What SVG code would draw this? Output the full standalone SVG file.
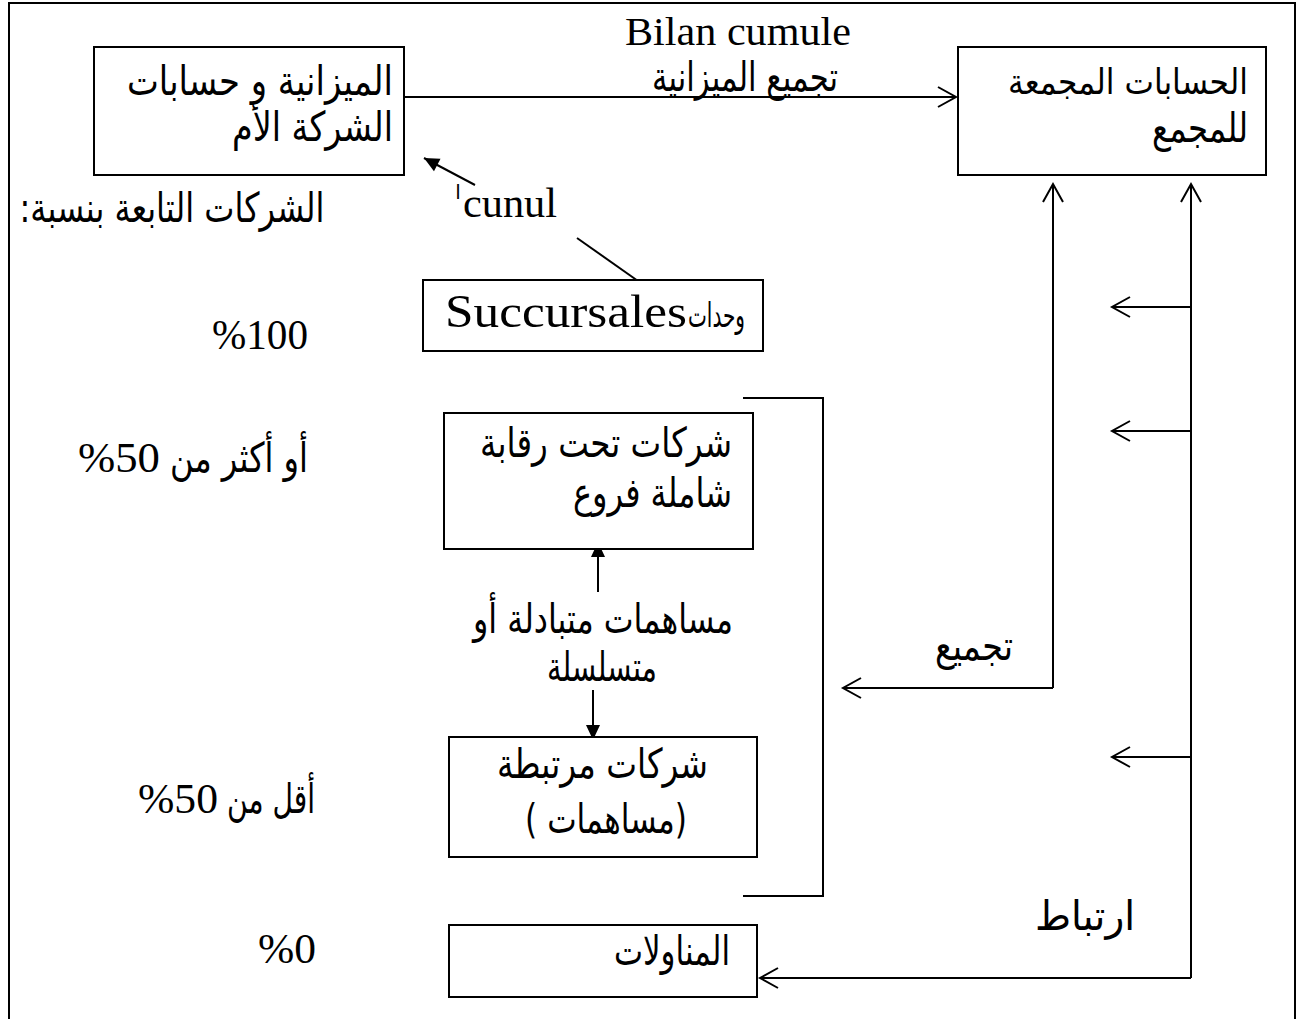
<svg xmlns="http://www.w3.org/2000/svg" width="1299" height="1019" viewBox="0 0 1299 1019">
<style>
.box{fill:#fff;stroke:#000;stroke-width:2}
.ln{fill:none;stroke:#000;stroke-width:2}
.ar{font-family:"DejaVu Sans",sans-serif;font-size:41px;fill:#000}
.lat{font-family:"Liberation Serif","DejaVu Sans",serif;font-size:40px;fill:#000}
</style>
<defs>
<marker id="open" viewBox="-22 -14 26 28" markerWidth="26" markerHeight="28" refX="0" refY="0" orient="auto" markerUnits="userSpaceOnUse">
<path d="M-18,-10 L0,0 L-18,10" fill="none" stroke="#000" stroke-width="2"/>
</marker>
<marker id="fill" viewBox="-18 -10 20 20" markerWidth="20" markerHeight="20" refX="0" refY="0" orient="auto" markerUnits="userSpaceOnUse">
<path d="M-15,-7 L0,0 L-15,7 Z" fill="#000"/>
</marker>
</defs>
<rect width="1299" height="1019" fill="#fff"/>
<path class="ln" d="M9,1019 V3 H1295 V1019"/>

<g id="connectors">
<path class="ln" d="M404,97 H956" marker-end="url(#open)"/>
<path class="ln" d="M475,185 L424,158" marker-end="url(#fill)"/>
<path class="ln" d="M577,238 L638,281"/>
<path class="ln" d="M598,592 V542" marker-end="url(#fill)"/>
<path class="ln" d="M593,690 V740" marker-end="url(#fill)"/>
<path class="ln" d="M743,398 H823 V896 H743"/>
<path class="ln" d="M1053,688 V184" marker-end="url(#open)"/>
<path class="ln" d="M1053,688 H843" marker-end="url(#open)"/>
<path class="ln" d="M1191,978 V184" marker-end="url(#open)"/>
<path class="ln" d="M1191,307 H1112" marker-end="url(#open)"/>
<path class="ln" d="M1191,431 H1112" marker-end="url(#open)"/>
<path class="ln" d="M1191,757 H1112" marker-end="url(#open)"/>
<path class="ln" d="M1191,978 H760" marker-end="url(#open)"/>
</g>

<g id="labels">
<text class="lat" x="738" y="45" text-anchor="middle" textLength="226" lengthAdjust="spacingAndGlyphs">Bilan cumule</text>
<text class="ar" x="838" y="91" text-anchor="end" textLength="186" lengthAdjust="spacingAndGlyphs">تجميع الميزانية</text>
<text class="ar" x="458" y="199" text-anchor="middle" style="font-size:20px">ا</text>
<text class="lat" x="463" y="217" textLength="94" lengthAdjust="spacingAndGlyphs" style="font-size:42px">cunul</text>
<text class="ar" x="1013" y="660" text-anchor="end" textLength="78" lengthAdjust="spacingAndGlyphs">تجميع</text>
<text class="ar" x="1135" y="930" text-anchor="end" textLength="100" lengthAdjust="spacingAndGlyphs">ارتباط</text>
<text class="ar" x="733" y="633" text-anchor="end" textLength="260" lengthAdjust="spacingAndGlyphs">مساهمات متبادلة أو</text>
<text class="ar" x="602" y="681" text-anchor="middle" textLength="110" lengthAdjust="spacingAndGlyphs">متسلسلة</text>
</g>

<g id="left-labels">
<text class="ar" x="172" y="222" text-anchor="middle" direction="rtl" textLength="305" lengthAdjust="spacingAndGlyphs">الشركات التابعة بنسبة:</text>
<text class="lat" x="260" y="349" text-anchor="middle" style="font-size:42px" textLength="96" lengthAdjust="spacingAndGlyphs">%100</text>
<g id="pct-50-plus">
<text class="lat" x="78" y="472" style="font-size:42px" textLength="82" lengthAdjust="spacingAndGlyphs">%50</text>
<text class="ar" x="308" y="472" text-anchor="end" textLength="138" lengthAdjust="spacingAndGlyphs">أو أكثر من</text>
</g>
<g id="pct-50-minus">
<text class="lat" x="138" y="813" style="font-size:42px" textLength="80" lengthAdjust="spacingAndGlyphs">%50</text>
<text class="ar" x="315" y="813" text-anchor="end" textLength="88" lengthAdjust="spacingAndGlyphs">أقل من</text>
</g>
<text class="lat" x="287" y="963" text-anchor="middle" style="font-size:42px" textLength="58" lengthAdjust="spacingAndGlyphs">%0</text>
</g>

<g id="node-parent">
<rect class="box" x="94" y="47" width="310" height="128"/>
<text class="ar" x="393" y="95" text-anchor="end" textLength="266" lengthAdjust="spacingAndGlyphs">الميزانية و حسابات</text>
<text class="ar" x="393" y="141" text-anchor="end" textLength="161" lengthAdjust="spacingAndGlyphs">الشركة الأم</text>
</g>

<g id="node-consolidated">
<rect class="box" x="958" y="47" width="308" height="128"/>
<text class="ar" x="1248" y="94" text-anchor="end" textLength="240" lengthAdjust="spacingAndGlyphs" style="font-size:35px">الحسابات المجمعة</text>
<text class="ar" x="1248" y="142" text-anchor="end" textLength="96" lengthAdjust="spacingAndGlyphs">للمجمع</text>
</g>

<g id="node-succursales">
<rect class="box" x="423" y="280" width="340" height="71"/>
<text class="lat" x="445" y="327" textLength="242" lengthAdjust="spacingAndGlyphs" style="font-size:46px">Succursales</text>
<text class="ar" x="745" y="327" text-anchor="end" textLength="57" lengthAdjust="spacingAndGlyphs" style="font-size:34px">وحدات</text>
</g>

<g id="node-subsidiaries">
<rect class="box" x="444" y="413" width="309" height="136"/>
<text class="ar" x="732" y="457" text-anchor="end" textLength="252" lengthAdjust="spacingAndGlyphs">شركات تحت رقابة</text>
<text class="ar" x="732" y="507" text-anchor="end" textLength="159" lengthAdjust="spacingAndGlyphs">شاملة فروع</text>
</g>

<g id="node-associates">
<rect class="box" x="449" y="737" width="308" height="120"/>
<text class="ar" x="708" y="778" text-anchor="end" textLength="211" lengthAdjust="spacingAndGlyphs">شركات مرتبطة</text>
<text class="ar" x="606" y="833" text-anchor="middle" textLength="162" lengthAdjust="spacingAndGlyphs">( مساهمات)</text>
</g>

<g id="node-subcontracting">
<rect class="box" x="449" y="925" width="308" height="72"/>
<text class="ar" x="730" y="965" text-anchor="end" textLength="116" lengthAdjust="spacingAndGlyphs">المناولات</text>
</g>
</svg>
